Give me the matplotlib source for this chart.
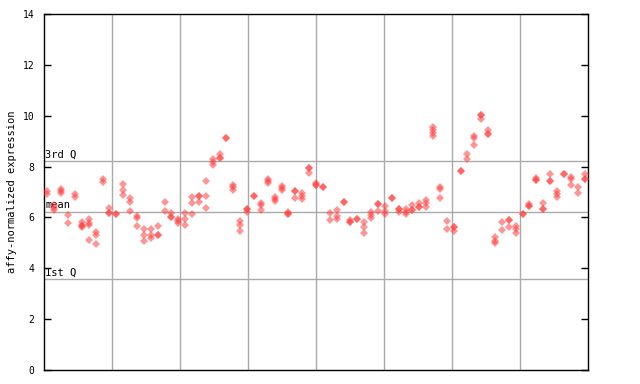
import matplotlib
matplotlib.use("Agg")
import matplotlib.pyplot as plt
import numpy as np

# replicate expression values per sample, 10 samples per list
grp1 = [[7.02, 6.94], [6.47, 6.37, 6.28], [7.12, 7.03, 6.95], [6.11, 5.79],
        [6.93, 6.82], [5.82, 5.70, 5.68, 5.62], [5.94, 5.80, 5.69, 5.12],
        [5.41, 5.32, 4.95], [7.50, 7.40], [6.37, 6.16, 6.16]]
grp2 = [[6.13, 6.13], [7.32, 7.08, 6.88], [6.77, 6.61, 6.25], [6.06, 5.98, 5.66],
        [5.56, 5.31, 5.07], [5.54, 5.29, 5.21], [5.66, 5.29, 5.29], [6.61, 6.25],
        [6.17, 6.00, 6.00], [5.94, 5.86, 5.78]]
grp3 = [[6.17, 5.94, 5.70], [6.80, 6.57, 6.13], [6.84, 6.84, 6.61], [7.44, 6.84, 6.37],
        [8.30, 8.18, 8.07], [8.50, 8.34, 8.34], [9.11, 9.11], [7.28, 7.20, 7.08],
        [5.86, 5.70, 5.47], [6.33, 6.33, 6.21]]
grp4 = [[6.84, 6.84], [6.57, 6.49, 6.29], [7.51, 7.43, 7.36], [6.80, 6.73, 6.65],
        [7.24, 7.16, 7.08], [6.21, 6.13, 6.13], [7.04, 7.04, 6.77], [6.96, 6.84, 6.73],
        [7.95, 7.95, 7.75], [7.36, 7.28, 7.28]]
grp5 = [[7.20, 7.20], [6.17, 5.90], [6.29, 6.06, 5.94], [6.61, 6.61],
        [5.90, 5.82, 5.82], [5.94, 5.94], [5.82, 5.62, 5.39], [6.21, 6.10, 5.98],
        [6.52, 6.52, 6.25], [6.45, 6.25, 6.13]]
grp6 = [[6.75, 6.75], [6.33, 6.33, 6.21], [6.33, 6.21, 6.13], [6.49, 6.29, 6.29],
        [6.57, 6.41, 6.41], [6.69, 6.57, 6.41], [9.55, 9.43, 9.31, 9.19],
        [7.18, 7.10, 6.77], [5.84, 5.54], [5.64, 5.64, 5.48]]
grp7 = [[7.81, 7.81], [8.50, 8.30], [9.21, 9.13, 8.85], [10.04, 10.04, 9.88],
        [9.44, 9.29, 9.29], [5.23, 5.07, 4.99], [5.82, 5.50], [5.90, 5.90, 5.62],
        [5.65, 5.54, 5.39], [6.13, 6.13]]
grp8 = [[6.53, 6.43, 6.43], [7.55, 7.47, 7.47], [6.57, 6.32, 6.32], [7.71, 7.43, 7.43],
        [7.04, 6.94, 6.82], [7.71, 7.71], [7.59, 7.51, 7.28], [7.20, 6.96],
        [7.71, 7.51, 7.51]]

q3 = 8.23
mean_val = 6.23
q1 = 3.59

samples = grp1 + grp2 + grp3 + grp4 + grp5 + grp6 + grp7 + grp8
n = len(samples)

fig = plt.figure(figsize=(6.4, 3.84), dpi=100)
ax = fig.add_axes([44 / 640, 14 / 384, 544 / 640, 356 / 384])

xs = []
ys = []
for i, reps in enumerate(samples):
    for v in reps:
        xs.append(i)
        ys.append(v)
ax.plot(xs, ys, linestyle="None", marker="D", markersize=4.0,
        color="#ff4040", alpha=0.55, markeredgewidth=0, zorder=3)

ax.set_xlim(-0.5, n - 0.5)
ax.set_ylim(0, 14)

# vertical grid dividing the axis in 8 equal parts
for k in range(1, 8):
    ax.axvline(-0.5 + n * k / 8, color="#aaaaaa", linewidth=1, zorder=1)

for val, lab in [(q3, "3rd Q"), (mean_val, "mean"), (q1, "1st Q")]:
    ax.axhline(val, color="#aaaaaa", linewidth=1, zorder=1)
    ax.text(-0.35, val + 0.05, lab, fontsize=7.5, family="DejaVu Sans Mono",
            va="bottom", ha="left", zorder=2)

ax.set_xticks([])
ax.set_yticks(np.arange(0, 15, 2))
ax.tick_params(axis="y", direction="in", length=5, labelsize=7, pad=7,
               right=True, left=True, width=1)
for lbl in ax.get_yticklabels():
    lbl.set_family("DejaVu Sans Mono")
ax.set_ylabel("affy-normalized expression", fontsize=7.5, family="DejaVu Sans Mono",
              labelpad=4)
for s in ax.spines.values():
    s.set_linewidth(1)

fig.savefig("out.png", dpi=100)
